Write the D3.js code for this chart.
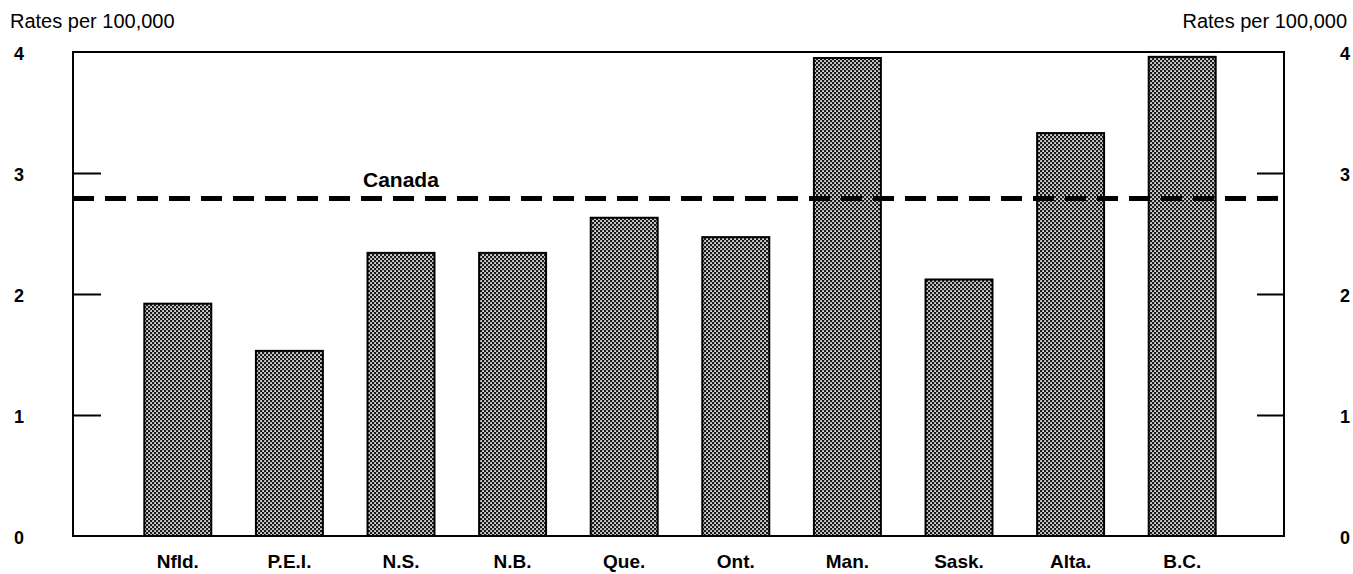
<!DOCTYPE html>
<html>
<head>
<meta charset="utf-8">
<script src="https://cdn.jsdelivr.net/npm/d3@7"></script>
<style>
  html, body { margin: 0; padding: 0; background: #fff; }
  svg { display: block; font-family: "Liberation Sans", Arial, sans-serif; }
</style>
</head>
<body>
<svg id="chart" width="1353" height="574"></svg>
<script>
const categories = ["Nfld.", "P.E.I.", "N.S.", "N.B.", "Que.", "Ont.", "Man.", "Sask.", "Alta.", "B.C."];
const rates = [1.92, 1.53, 2.34, 2.34, 2.63, 2.47, 3.95, 2.12, 3.33, 3.96];
const canadaRate = 2.79;
const yTicks = [0, 1, 2, 3, 4];
const axisTitle = "Rates per 100,000";
const refLabel = "Canada";

(function () {
const svg = d3.select("#chart");
const mLeft = 73, mRight = 1284, mTop = 52, mBottom = 536;

const y = d3.scaleLinear().domain([0, 4]).range([mBottom, mTop]);
const x = d3.scaleBand().domain(categories).range([122, 1238]).paddingInner(0.4).paddingOuter(0.2);

// pattern
const defs = svg.append("defs");
const pat = defs.append("pattern").attr("id", "dots").attr("patternUnits", "userSpaceOnUse")
  .attr("width", 4).attr("height", 4);
pat.append("rect").attr("width", 4).attr("height", 4).attr("fill", "#1a1a1a");
pat.append("rect").attr("x", 0.2).attr("y", 0.2).attr("width", 1.7).attr("height", 1.7).attr("fill", "#fff");
pat.append("rect").attr("x", 2.2).attr("y", 2.2).attr("width", 1.7).attr("height", 1.7).attr("fill", "#fff");

// bars
svg.append("g").selectAll("rect").data(categories).join("rect")
  .attr("x", d => x(d))
  .attr("y", (d, i) => y(rates[i]))
  .attr("width", x.bandwidth())
  .attr("height", (d, i) => y(0) - y(rates[i]))
  .attr("fill", "url(#dots)")
  .attr("stroke", "#000")
  .attr("stroke-width", 2);

// frame
svg.append("rect").attr("x", mLeft).attr("y", mTop).attr("width", mRight - mLeft).attr("height", mBottom - mTop)
  .attr("fill", "none").attr("stroke", "#000").attr("stroke-width", 2);

// left axis
const gl = svg.append("g").attr("transform", `translate(${mLeft},0)`)
  .call(d3.axisLeft(y).tickValues(yTicks).tickFormat(d3.format("d")).tickSizeInner(-28).tickSizeOuter(0).tickPadding(49));
gl.select(".domain").remove();
gl.selectAll(".tick line").attr("stroke", "#000").attr("stroke-width", 2);
gl.selectAll(".tick text").attr("font-size", 18).attr("font-weight", "bold").attr("fill", "#000").attr("dy", "0.4em");
gl.selectAll(".tick").filter(d => d === 0 || d === 4).select("line").remove();

// right axis
const gr = svg.append("g").attr("transform", `translate(${mRight},0)`)
  .call(d3.axisRight(y).tickValues(yTicks).tickFormat(d3.format("d")).tickSizeInner(-27).tickSizeOuter(0).tickPadding(56));
gr.select(".domain").remove();
gr.selectAll(".tick line").attr("stroke", "#000").attr("stroke-width", 2);
gr.selectAll(".tick text").attr("font-size", 18).attr("font-weight", "bold").attr("fill", "#000").attr("dy", "0.4em");
gr.selectAll(".tick").filter(d => d === 0 || d === 4).select("line").remove();

// bottom axis labels
const gb = svg.append("g").attr("transform", `translate(0,${mBottom})`)
  .call(d3.axisBottom(x).tickSize(0).tickPadding(19));
gb.select(".domain").remove();
gb.selectAll(".tick text").attr("font-size", 19).attr("font-weight", "bold").attr("fill", "#000");

// Canada line
svg.append("line").attr("x1", mLeft).attr("x2", mRight).attr("y1", y(canadaRate)).attr("y2", y(canadaRate))
  .attr("stroke", "#000").attr("stroke-width", 5).attr("stroke-dasharray", "21,11");
svg.append("text").attr("x", 363).attr("y", y(canadaRate) - 11)
  .attr("font-size", 21).attr("font-weight", "bold").text(refLabel);

// titles
svg.append("text").attr("x", 10).attr("y", 28).attr("font-size", 20).text(axisTitle);
svg.append("text").attr("x", 1347).attr("y", 28).attr("text-anchor", "end").attr("font-size", 20).text(axisTitle);
})();
</script>
</body>
</html>
